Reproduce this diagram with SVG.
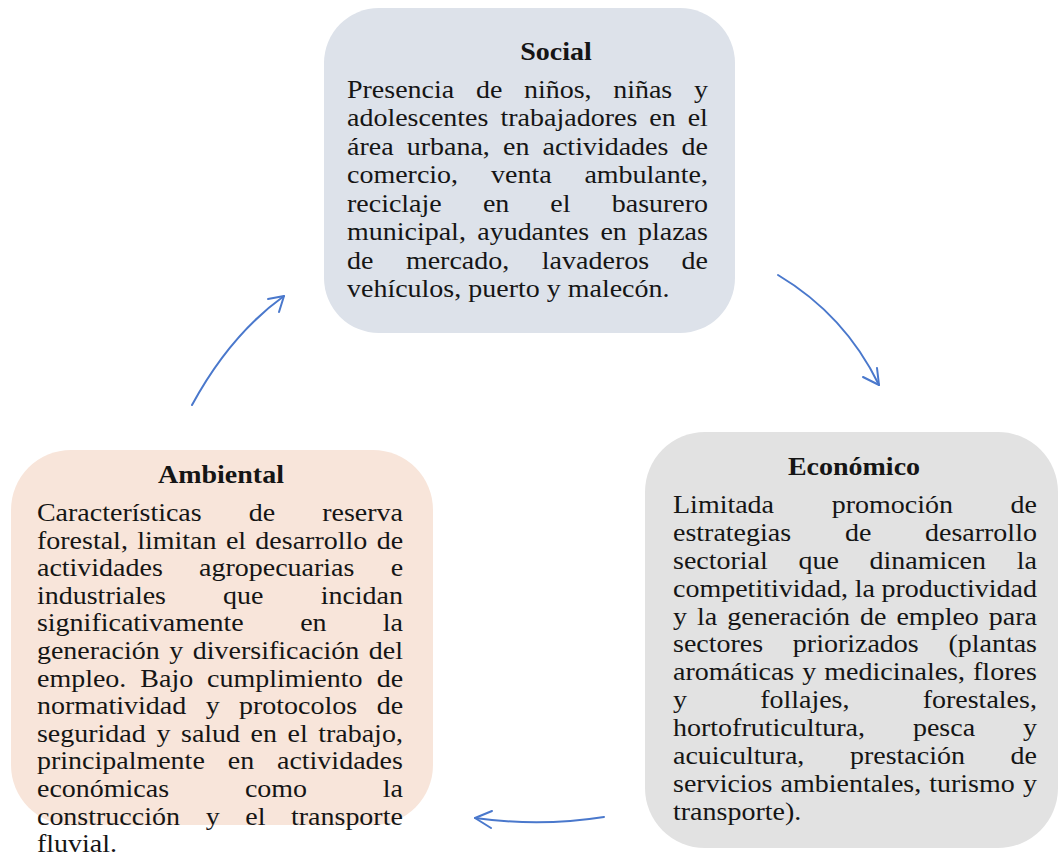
<svg xmlns="http://www.w3.org/2000/svg" width="1060" height="858" viewBox="0 0 1060 858">
<style>
.t{font-family:"Liberation Serif","Times New Roman",serif;font-size:25px;fill:#151515}
.h{font-family:"Liberation Serif","Times New Roman",serif;font-size:25px;font-weight:bold;fill:#151515;text-anchor:middle}
.c{fill:none;stroke:#4a78cc;stroke-width:2;stroke-linecap:round;stroke-linejoin:round}
</style>
<rect width="1060" height="858" fill="#ffffff"/>
<g id="social">
<rect x="324" y="8" width="411" height="325" rx="55" fill="#dde2ea"/>
<g transform="scale(1.12,1)">
<text class="h" x="496.4" y="60">Social</text>
<text class="t" y="98"><tspan x="309.8">Presencia</tspan><tspan x="424.9">de</tspan><tspan x="467.8">niños,</tspan><tspan x="547.5">niñas</tspan><tspan x="619.6">y</tspan></text>
<text class="t" y="126.5"><tspan x="309.8">adolescentes</tspan><tspan x="446.9">trabajadores</tspan><tspan x="579.7">en</tspan><tspan x="614">el</tspan></text>
<text class="t" y="155"><tspan x="309.8">área</tspan><tspan x="363.1">urbana,</tspan><tspan x="449.1">en</tspan><tspan x="484.4">actividades</tspan><tspan x="608.6">de</tspan></text>
<text class="t" y="183.5"><tspan x="309.8">comercio,</tspan><tspan x="438.4">venta</tspan><tspan x="521.8">ambulante,</tspan></text>
<text class="t" y="212"><tspan x="309.8">reciclaje</tspan><tspan x="431.2">en</tspan><tspan x="491.4">el</tspan><tspan x="546.2">basurero</tspan></text>
<text class="t" y="240.5"><tspan x="309.8">municipal,</tspan><tspan x="426.1">ayudantes</tspan><tspan x="536.1">en</tspan><tspan x="569.6">plazas</tspan></text>
<text class="t" y="269"><tspan x="309.8">de</tspan><tspan x="362.4">mercado,</tspan><tspan x="483.8">lavaderos</tspan><tspan x="608.6">de</tspan></text>
<text class="t" x="309.8" y="297.5">vehículos, puerto y malecón.</text>
</g>
</g>
<g id="economico">
<rect x="645" y="432" width="413" height="416" rx="60" fill="#e2e2e2"/>
<g transform="scale(1.12,1)">
<text class="h" x="762.5" y="475">Económico</text>
<text class="t" y="513"><tspan x="600.9">Limitada</tspan><tspan x="742.6">promoción</tspan><tspan x="902.3">de</tspan></text>
<text class="t" y="540.9"><tspan x="600.9">estrategias</tspan><tspan x="754.4">de</tspan><tspan x="825.9">desarrollo</tspan></text>
<text class="t" y="568.8"><tspan x="600.9">sectorial</tspan><tspan x="712.9">que</tspan><tspan x="776.3">dinamicen</tspan><tspan x="907.8">la</tspan></text>
<text class="t" y="596.7"><tspan x="600.9">competitividad,</tspan><tspan x="763.1">la</tspan><tspan x="787.1">productividad</tspan></text>
<text class="t" y="624.6"><tspan x="600.9">y</tspan><tspan x="622.3">la</tspan><tspan x="649.3">generación</tspan><tspan x="767.9">de</tspan><tspan x="800.4">empleo</tspan><tspan x="882.9">para</tspan></text>
<text class="t" y="652.5"><tspan x="600.9">sectores</tspan><tspan x="707.9">priorizados</tspan><tspan x="846.8">(plantas</tspan></text>
<text class="t" y="680.4"><tspan x="600.9">aromáticas</tspan><tspan x="716.3">y</tspan><tspan x="736">medicinales,</tspan><tspan x="868.8">flores</tspan></text>
<text class="t" y="708.3"><tspan x="600.9">y</tspan><tspan x="678.7">follajes,</tspan><tspan x="823.8">forestales,</tspan></text>
<text class="t" y="736.2"><tspan x="600.9">hortofruticultura,</tspan><tspan x="815.1">pesca</tspan><tspan x="913.4">y</tspan></text>
<text class="t" y="764.1"><tspan x="600.9">acuicultura,</tspan><tspan x="758.9">prestación</tspan><tspan x="902.3">de</tspan></text>
<text class="t" y="792"><tspan x="600.9">servicios</tspan><tspan x="696.9">ambientales,</tspan><tspan x="829.7">turismo</tspan><tspan x="913.3">y</tspan></text>
<text class="t" x="600.9" y="819.9">transporte).</text>
</g>
</g>
<g id="ambiental">
<rect x="11" y="450" width="422" height="375" rx="60" fill="#f8e5da"/>
<g transform="scale(1.12,1)">
<text class="h" x="197.3" y="483">Ambiental</text>
<text class="t" y="521"><tspan x="33">Características</tspan><tspan x="222.1">de</tspan><tspan x="287.7">reserva</tspan></text>
<text class="t" y="548.6"><tspan x="33">forestal,</tspan><tspan x="122.5">limitan</tspan><tspan x="201.7">el</tspan><tspan x="228">desarrollo</tspan><tspan x="336.3">de</tspan></text>
<text class="t" y="576.2"><tspan x="33">actividades</tspan><tspan x="177.7">agropecuarias</tspan><tspan x="348.8">e</tspan></text>
<text class="t" y="603.8"><tspan x="33">industriales</tspan><tspan x="199.2">que</tspan><tspan x="286.3">incidan</tspan></text>
<text class="t" y="631.4"><tspan x="33">significativamente</tspan><tspan x="268">en</tspan><tspan x="341.8">la</tspan></text>
<text class="t" y="659"><tspan x="33">generación</tspan><tspan x="151.2">y</tspan><tspan x="172.2">diversificación</tspan><tspan x="329.3">del</tspan></text>
<text class="t" y="686.6"><tspan x="33">empleo.</tspan><tspan x="125.3">Bajo</tspan><tspan x="184.9">cumplimiento</tspan><tspan x="336.3">de</tspan></text>
<text class="t" y="714.2"><tspan x="33">normatividad</tspan><tspan x="183.6">y</tspan><tspan x="213.4">protocolos</tspan><tspan x="336.3">de</tspan></text>
<text class="t" y="741.8"><tspan x="33">seguridad</tspan><tspan x="139.7">y</tspan><tspan x="161.6">salud</tspan><tspan x="223.7">en</tspan><tspan x="256.7">el</tspan><tspan x="284.1">trabajo,</tspan></text>
<text class="t" y="769.4"><tspan x="33">principalmente</tspan><tspan x="203.4">en</tspan><tspan x="247.3">actividades</tspan></text>
<text class="t" y="797"><tspan x="33">económicas</tspan><tspan x="218.7">como</tspan><tspan x="341.8">la</tspan></text>
<text class="t" y="824.6"><tspan x="33">construcción</tspan><tspan x="183.6">y</tspan><tspan x="219">el</tspan><tspan x="259.8">transporte</tspan></text>
<text class="t" x="33" y="852.2">fluvial.</text>
</g>
</g>
<g id="connectors">
<path class="c" d="M192,405 Q230,335 284,296"/>
<path class="c" d="M268,299 L284,296 L279,312"/>
<path class="c" d="M778,275 Q845,315 879,385"/>
<path class="c" d="M863,377 L879,385 L877,368"/>
<path class="c" d="M604,817 Q540,827 475,818"/>
<path class="c" d="M492,811 L475,818 L491,828"/>
</g>
</svg>
